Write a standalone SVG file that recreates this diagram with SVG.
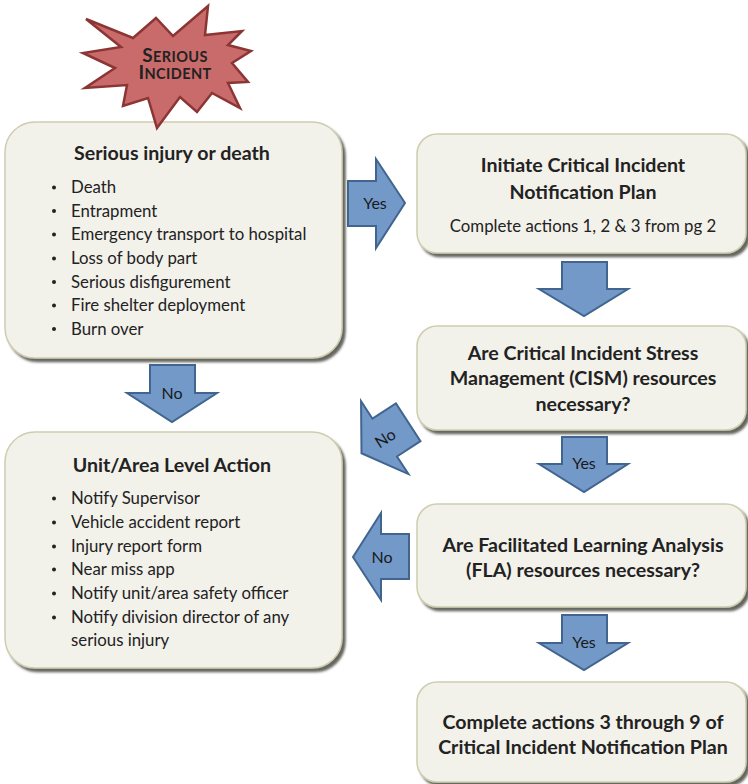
<svg xmlns="http://www.w3.org/2000/svg" width="748" height="784" viewBox="0 0 748 784">
<style>
.box{fill:#f2f1ea;stroke:#cfcdb0;stroke-width:1.5;filter:url(#sh)}
.arr{fill:#7399c9;stroke:#41658f;stroke-width:2;stroke-linejoin:miter}
.t{font-family:Lato,"Liberation Sans",sans-serif;fill:#222}
.b{font-weight:bold;font-size:19.6px}
.r{font-size:16.8px}
.m{text-anchor:middle}
.al{font-family:Lato,"Liberation Sans",sans-serif;font-size:16px;fill:#1a1a1a;text-anchor:middle}
</style>
<defs>
<filter id="sh" x="-5%" y="-5%" width="115%" height="115%">
<feDropShadow dx="3" dy="3.5" stdDeviation="1.3" flood-color="#55554f" flood-opacity="0.9"/>
</filter>
</defs>
<rect width="748" height="784" fill="#fff"/>

<g id="connectors">
<polygon class="arr" points="348,181 376,181 376,159 405,203 376,248 376,226 348,226"/>
<text class="al" x="375" y="209">Yes</text>
<polygon class="arr" points="150,365 195,365 195,393 217,393 172,422 127,393 150,393"/>
<text class="al" x="172" y="399">No</text>
<polygon class="arr" points="562,262 607,262 607,289 628,289 584,316 539,289 562,289"/>
<g transform="translate(385,438) rotate(-33)">
<polygon class="arr" points="-28,0 0,-44 0,-23 28,-23 28,22 0,22 0,43"/>
<text class="al" x="0" y="6">No</text>
</g>
<polygon class="arr" points="562,437 607,437 607,464 628,464 584,492 539,464 562,464"/>
<text class="al" x="584" y="469">Yes</text>
<polygon class="arr" points="409,534 409,579 381,579 381,600 353,557 381,513 381,534"/>
<text class="al" x="382" y="563">No</text>
<polygon class="arr" points="562,615 607,615 607,643 628,643 584,670 539,643 562,643"/>
<text class="al" x="584" y="648">Yes</text>
</g>

<g id="serious">
<rect class="box" x="5" y="122" width="337" height="236" rx="30"/>
<text class="t b m" x="172" y="160">Serious injury or death</text>
<g class="t r">
<text x="71" y="193">Death</text>
<text x="71" y="216.5">Entrapment</text>
<text x="71" y="240">Emergency transport to hospital</text>
<text x="71" y="264">Loss of body part</text>
<text x="71" y="287.5">Serious disfigurement</text>
<text x="71" y="311">Fire shelter deployment</text>
<text x="71" y="334.5">Burn over</text>
</g>
<g fill="#222">
<circle cx="54" cy="187.5" r="2"/><circle cx="54" cy="211" r="2"/><circle cx="54" cy="234.5" r="2"/><circle cx="54" cy="258.5" r="2"/><circle cx="54" cy="282" r="2"/><circle cx="54" cy="305.5" r="2"/><circle cx="54" cy="329" r="2"/>
</g>
</g>

<g id="incident">
<polygon points="86,19 133,38 156,18 173,36 208,6 205,35 242,31 228,45 251,51 232,63 248,82 228,83 240,108 212,93 197,112 180,97 157,128 148,98 123,106 127,85 85,88 115,68 83,53 121,47" fill="#c86b6a" stroke="#8c3535" stroke-width="2.5" stroke-linejoin="miter"/>
<text class="t m" x="175" y="62" font-weight="bold" font-size="14.5" letter-spacing="0.4"><tspan font-size="19">S</tspan>ERIOUS</text>
<text class="t m" x="175" y="79" font-weight="bold" font-size="14.5" letter-spacing="0.4"><tspan font-size="19">I</tspan>NCIDENT</text>
</g>

<g id="initiate">
<rect class="box" x="417" y="134" width="329" height="119" rx="20"/>
<text class="t b m" x="583" y="172">Initiate Critical Incident</text>
<text class="t b m" x="583" y="199">Notification Plan</text>
<text class="t r m" x="583" y="232">Complete actions 1, 2 &amp; 3 from pg 2</text>
</g>

<g id="cism">
<rect class="box" x="417" y="326" width="329" height="104" rx="20"/>
<text class="t b m" x="583" y="360">Are Critical Incident Stress</text>
<text class="t b m" x="583" y="385">Management (CISM) resources</text>
<text class="t b m" x="583" y="411">necessary?</text>
</g>

<g id="fla">
<rect class="box" x="417" y="504" width="329" height="103" rx="20"/>
<text class="t b m" x="583" y="552">Are Facilitated Learning Analysis</text>
<text class="t b m" x="583" y="577">(FLA) resources necessary?</text>
</g>

<g id="complete">
<rect class="box" x="417" y="682" width="329" height="100" rx="20"/>
<text class="t b m" x="583" y="729">Complete actions 3 through 9 of</text>
<text class="t b m" x="583" y="754">Critical Incident Notification Plan</text>
</g>

<g id="unit">
<rect class="box" x="5" y="432" width="337" height="236" rx="30"/>
<text class="t b m" x="172" y="472">Unit/Area Level Action</text>
<g class="t r">
<text x="71" y="504">Notify Supervisor</text>
<text x="71" y="528">Vehicle accident report</text>
<text x="71" y="552">Injury report form</text>
<text x="71" y="575">Near miss app</text>
<text x="71" y="599">Notify unit/area safety officer</text>
<text x="71" y="623">Notify division director of any</text>
<text x="71" y="646">serious injury</text>
</g>
<g fill="#222">
<circle cx="54" cy="498.5" r="2"/><circle cx="54" cy="522.5" r="2"/><circle cx="54" cy="546.5" r="2"/><circle cx="54" cy="569.5" r="2"/><circle cx="54" cy="593.5" r="2"/><circle cx="54" cy="617.5" r="2"/>
</g>
</g>
</svg>
